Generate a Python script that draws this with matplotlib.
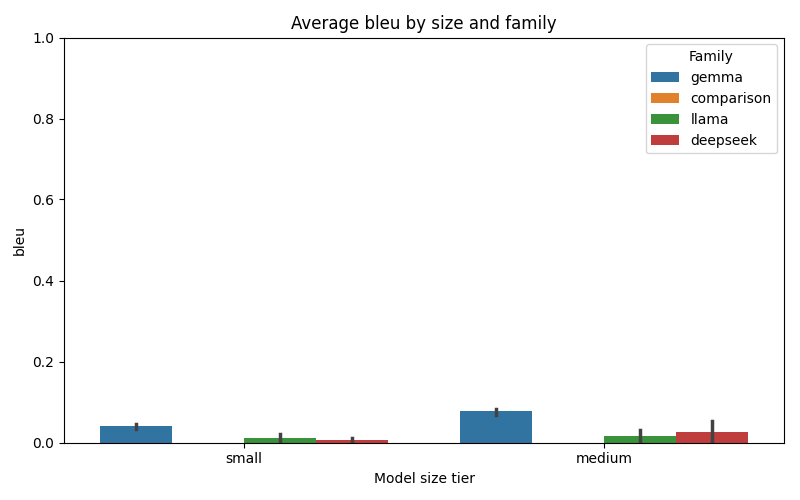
import numpy as np
import matplotlib
matplotlib.use("Agg")
import matplotlib.pyplot as plt

tiers = ["small", "medium"]
families = ["gemma", "comparison", "llama", "deepseek"]
colors = ["#3274a1", "#e1812c", "#3a923a", "#c03d3e"]
means = {
    "gemma": [0.040, 0.077],
    "comparison": [np.nan, np.nan],
    "llama": [0.010, 0.015],
    "deepseek": [0.005, 0.025],
}
ci_low = {"gemma": [0.033, 0.068], "comparison": [np.nan, np.nan],
          "llama": [0.0, 0.0], "deepseek": [0.0, 0.0]}
ci_high = {"gemma": [0.045, 0.082], "comparison": [np.nan, np.nan],
           "llama": [0.022, 0.032], "deepseek": [0.010, 0.054]}

fig, ax = plt.subplots(figsize=(8, 5), dpi=100)
x = np.arange(len(tiers))
w = 0.2
for i, fam in enumerate(families):
    pos = x - 0.3 + i * w
    m = np.array(means[fam])
    ax.bar(pos, np.nan_to_num(m), width=w, color=colors[i], label=fam)
    for p, lo, hi in zip(pos, ci_low[fam], ci_high[fam]):
        if not np.isnan(lo):
            ax.plot([p, p], [lo, hi], color="#424242", lw=2.5)

ax.set_xticks(x, tiers)
ax.set_xlim(-0.5, 1.5)
ax.set_ylim(0, 1)
ax.set_xlabel("Model size tier")
ax.set_ylabel("bleu")
ax.set_title("Average bleu by size and family")
ax.legend(title="Family", loc="upper right")
fig.subplots_adjust(left=0.08, right=0.98, top=0.925, bottom=0.115)
fig.savefig("out.png")
